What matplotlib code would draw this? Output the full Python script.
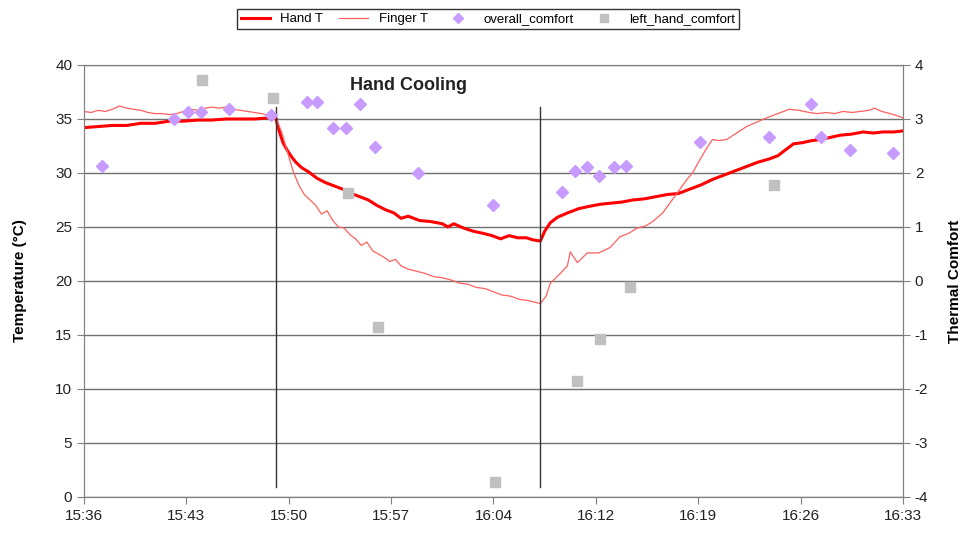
import matplotlib
matplotlib.use("Agg")
import matplotlib.pyplot as plt

plt.rcParams['font.family'] = ['Liberation Sans', 'DejaVu Sans']
plt.rcParams['axes.unicode_minus'] = False

# time axis in minutes after 15:36
tick_pos = [0, 7.2, 14.4, 21.6, 28.8, 36.0, 43.2, 50.4, 57.6]
tick_labels = ['15:36', '15:43', '15:50', '15:57', '16:04', '16:12', '16:19', '16:26', '16:33']

hand_min = [0.0, 1.0, 2.0, 3.0, 4.0, 5.0, 6.0, 7.0, 8.0, 9.0, 10.0, 11.0, 12.0, 13.0, 13.5,
            13.6, 13.8, 14.0, 14.3, 14.6, 14.9, 15.3, 15.8, 16.4, 17.0, 17.6, 18.2, 18.8, 19.4,
            20.0, 20.6, 21.2, 21.8, 22.3, 22.8, 23.6, 24.4, 25.2, 25.6, 26.0, 26.7, 27.4,
            28.1, 28.7, 29.3, 29.9, 30.5, 31.1, 31.6, 32.1, 32.4, 32.8, 33.3, 34.0, 34.8,
            35.5, 36.3, 37.0, 37.8, 38.6, 39.4, 40.2, 41.0, 41.8, 42.6, 43.4, 44.2, 45.0,
            45.8, 46.6, 47.4, 48.2, 48.8, 49.4, 49.9, 50.5, 51.2, 51.8, 52.5, 53.2, 54.0,
            54.8, 55.5, 56.2, 57.0, 57.6]
hand_t = [34.2, 34.3, 34.4, 34.4, 34.6, 34.6, 34.8, 34.8, 34.9, 34.9, 35.0, 35.0, 35.0, 35.1, 35.1,
          34.5, 33.6, 32.8, 32.1, 31.5, 31.0, 30.5, 30.1, 29.5, 29.1, 28.8, 28.5, 28.1, 27.8,
          27.5, 27.0, 26.6, 26.3, 25.8, 26.0, 25.6, 25.5, 25.3, 25.0, 25.3, 24.9, 24.6,
          24.4, 24.2, 23.9, 24.2, 24.0, 24.0, 23.8, 23.7, 24.6, 25.4, 25.9, 26.3, 26.7,
          26.9, 27.1, 27.2, 27.3, 27.5, 27.6, 27.8, 28.0, 28.1, 28.5, 28.9, 29.4, 29.8,
          30.2, 30.6, 31.0, 31.3, 31.6, 32.2, 32.7, 32.8, 33.0, 33.1, 33.3, 33.5, 33.6,
          33.8, 33.7, 33.8, 33.8, 33.9]

finger_min = [0.0, 0.5, 1.0, 1.5, 2.0, 2.5, 3.0, 3.5, 4.0, 4.5, 5.0, 5.5, 6.0, 6.5, 7.0, 7.5,
              8.0, 8.5, 9.0, 9.5, 10.0, 10.5, 11.0, 11.5, 12.0, 12.5, 13.0, 13.5,
              13.9, 14.3, 14.7, 15.1, 15.5, 15.9, 16.3, 16.7, 17.1, 17.5, 17.9, 18.3, 18.7,
              19.1, 19.5, 19.9, 20.3, 20.7, 21.1, 21.5, 21.9, 22.3, 22.8, 23.4, 24.0, 24.6,
              25.2, 25.8, 26.4, 27.0, 27.6, 28.2, 28.8, 29.4, 30.0, 30.6, 31.2, 31.8, 32.1,
              32.5, 32.8, 33.5, 34.0, 34.2, 34.7, 35.4, 36.2, 37.0, 37.7, 38.3, 38.9, 39.5,
              40.0, 40.7, 41.2, 41.7, 42.4, 42.8, 43.3, 43.8, 44.2, 44.6, 45.2, 45.9, 46.6,
              47.3, 48.0, 48.8, 49.6, 50.3, 51.0, 51.6, 52.2, 52.8, 53.4, 54.0, 54.6, 55.2,
              55.6, 56.1, 56.7, 57.2, 57.6]
finger_t = [35.7, 35.6, 35.8, 35.7, 35.9, 36.2, 36.0, 35.9, 35.8, 35.6, 35.5, 35.5, 35.4, 35.5, 35.7, 35.9,
            35.8, 36.0, 36.1, 36.0, 36.1, 35.9, 35.8, 35.7, 35.6, 35.5, 35.3, 35.1,
            33.8, 32.0, 30.2, 28.9, 28.0, 27.5, 27.0, 26.2, 26.5, 25.6, 25.0, 24.9, 24.3,
            23.9, 23.3, 23.6, 22.8, 22.5, 22.2, 21.8, 22.0, 21.4, 21.1, 20.9, 20.7, 20.4,
            20.3, 20.1, 19.8, 19.7, 19.4, 19.3, 19.0, 18.7, 18.6, 18.3, 18.2, 18.0, 17.9,
            18.6, 19.8, 20.7, 21.4, 22.7, 21.7, 22.6, 22.6, 23.1, 24.1, 24.4, 24.9, 25.1,
            25.5, 26.3, 27.2, 28.1, 29.4, 30.0, 31.2, 32.3, 33.1, 33.0, 33.1, 33.7, 34.3,
            34.7, 35.1, 35.5, 35.9, 35.8, 35.6, 35.5, 35.6, 35.5, 35.7, 35.6, 35.7, 35.8,
            36.0, 35.7, 35.5, 35.3, 35.1]

overall_min = [1.3, 6.3, 7.3, 8.2, 10.2, 13.15, 15.7, 16.4, 17.5, 18.4, 19.4, 20.5, 23.5,
               28.8, 33.6, 34.5, 35.4, 36.2, 37.3, 38.1, 43.3, 48.2, 51.1, 51.8, 53.9, 56.9]
overall_comfort = [2.13, 3.0, 3.13, 3.13, 3.19, 3.07, 3.31, 3.31, 2.83, 2.83, 3.28, 2.48, 2.0,
                   1.41, 1.65, 2.04, 2.11, 1.94, 2.11, 2.13, 2.57, 2.67, 3.28, 2.67, 2.43, 2.37]

left_min = [8.3, 13.3, 18.6, 20.7, 28.9, 34.7, 36.3, 38.4, 48.5]
left_hand_comfort = [3.72, 3.39, 1.63, -0.85, -3.72, -1.85, -1.07, -0.11, 1.78]

# start / end of the cooling period
cooling_min = [13.5, 32.1]

fig = plt.figure(figsize=(9.64, 5.37), dpi=100)
ax = fig.add_axes([0.0871, 0.0745, 0.8496, 0.8045])

ax.set_ylim(0, 40)
ax.set_xlim(0, 57.6)
ax.set_yticks(range(0, 41, 5))
ax.set_xticks(tick_pos)
ax.set_xticklabels(tick_labels)
ax.yaxis.grid(True, color='#707070', linewidth=1)
ax.set_axisbelow(True)

ln1, = ax.plot(hand_min, hand_t, color='#ff0000', linewidth=2.2, label='Hand T')
ln2, = ax.plot(finger_min, finger_t, color='#ff6060', linewidth=0.9, label='Finger T')
for c in cooling_min:
    ax.plot([c, c], [0.9, 36.1], color='#333333', linewidth=1)

ax.text(22.8, 38.1, 'Hand Cooling', fontsize=13, fontweight='bold', ha='center', va='center',
        color='#222222')
ax.set_ylabel('Temperature (°C)', fontsize=11, fontweight='bold', labelpad=20)

ax2 = ax.twinx()
ax2.set_ylim(-4, 4)
ax2.set_yticks(range(-4, 5))
sc1, = ax2.plot(overall_min, overall_comfort, linestyle='none', marker='D', markersize=6,
                color='#c89bff', label='overall_comfort')
sc2, = ax2.plot(left_min, left_hand_comfort, linestyle='none', marker='s', markersize=6.5,
                color='#c0c0c0', label='left_hand_comfort')
ax2.set_ylabel('Thermal Comfort', fontsize=11, fontweight='bold', labelpad=14)

for a in (ax, ax2):
    for s in a.spines.values():
        s.set_color('#808080')
    a.tick_params(labelsize=11, colors='#808080', labelcolor='#222222', length=5)

fig.legend(handles=[ln1, ln2, sc1, sc2], loc='upper center', bbox_to_anchor=(0.506, 0.995),
           ncol=4, fontsize=9.5, frameon=True, fancybox=False, edgecolor='#333333',
           framealpha=1, handlelength=2.2, columnspacing=1.2, borderpad=0.3, markerscale=0.8)

fig.savefig('out.png', dpi=100)
